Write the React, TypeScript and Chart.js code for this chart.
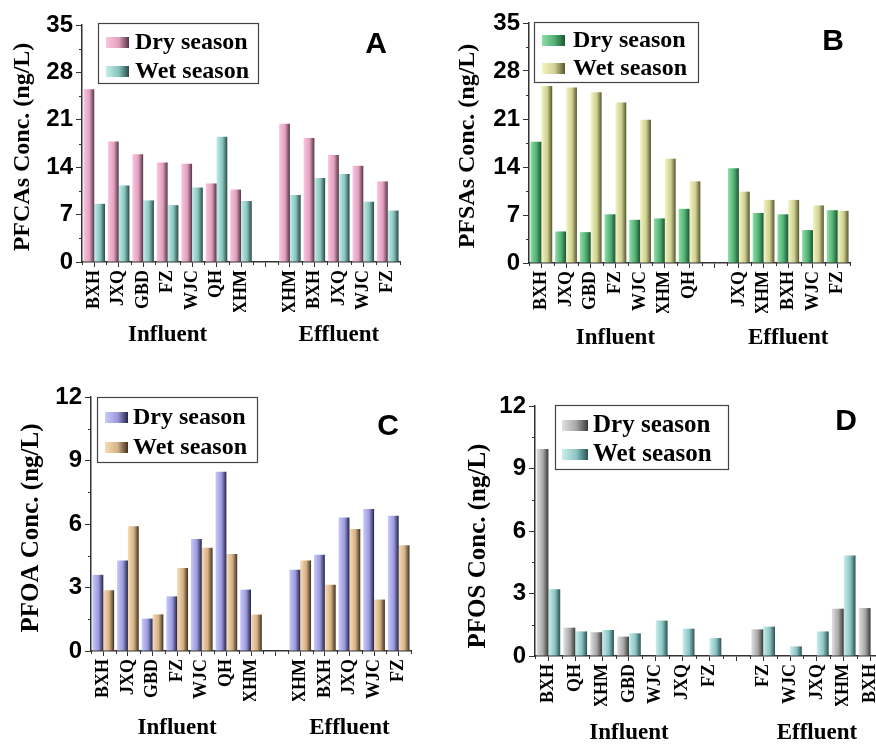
import React, { useEffect, useRef } from 'react';
import { Chart, registerables } from 'chart.js';

Chart.register(...registerables);

// ---------------- DATA ----------------
const seriesNames = ['Dry season', 'Wet season'];
const groupLabels = ['Influent', 'Effluent'];

const labelsA = ['BXH', 'JXQ', 'GBD', 'FZ', 'WJC', 'QH', 'XHM', '', 'XHM', 'BXH', 'JXQ', 'WJC', 'FZ'];
const dryA = [25.5, 17.8, 15.9, 14.7, 14.5, 11.6, 10.7, null, 20.4, 18.3, 15.8, 14.2, 11.9];
const wetA = [8.6, 11.3, 9.1, 8.4, 11.0, 18.5, 9.0, null, 9.9, 12.4, 13.0, 8.9, 7.6];

const labelsB = ['BXH', 'JXQ', 'GBD', 'FZ', 'WJC', 'XHM', 'QH', '', 'JXQ', 'XHM', 'BXH', 'WJC', 'FZ'];
const dryB = [17.7, 4.6, 4.5, 7.1, 6.3, 6.5, 7.9, null, 13.8, 7.3, 7.1, 4.8, 7.7];
const wetB = [25.8, 25.6, 24.9, 23.4, 20.9, 15.2, 11.9, null, 10.4, 9.2, 9.2, 8.4, 7.6];

const labelsC = ['BXH', 'JXQ', 'GBD', 'FZ', 'WJC', 'QH', 'XHM', '', 'XHM', 'BXH', 'JXQ', 'WJC', 'FZ'];
const dryC = [3.6, 4.28, 1.53, 2.58, 5.29, 8.47, 2.9, null, 3.84, 4.55, 6.31, 6.71, 6.39];
const wetC = [2.87, 5.89, 1.73, 3.92, 4.88, 4.58, 1.72, null, 4.28, 3.13, 5.76, 2.43, 5.0];

const labelsD = ['BXH', 'QH', 'XHM', 'GBD', 'WJC', 'JXQ', 'FZ', '', 'FZ', 'WJC', 'JXQ', 'XHM', 'BXH'];
const dryD = [9.94, 1.36, 1.14, 0.93, null, null, null, null, 1.28, null, null, 2.27, 2.3];
const wetD = [3.2, 1.18, 1.25, 1.09, 1.7, 1.31, 0.86, null, 1.41, 0.46, 1.18, 4.82, null];

const yMaxAB = 35;
const yStepAB = 7;
const yMaxCD = 12;
const yStepCD = 3;

// ---------------- STYLE / LAYOUT ----------------
type Stops = string[];
const XH = 50;

const panels = [
  {
    letter: 'A', left: 0, top: 0, w: 436, h: 360,
    area: { l: 82, t: 25, r: 400, b: 262 },
    labels: labelsA, dry: dryA, wet: wetA, yMax: yMaxAB, yStep: yStepAB,
    title: 'PFCAs Conc. (ng/L)', titleX: 23, titleY: 147, titleSize: 24,
    legend: { x: 98, y: 23, w: 160, h: 60, sx: 106, sw: 23, tx: 135, r1: 42, r2: 71, font: 24 },
    letterPos: { x: 376, y: 45 }, groupDy: 73,
    grad: [['#fac6de', '#e2a0c0', '#553444'], ['#c2eee9', '#88c4be', '#2b4a47']] as Stops[],
  },
  {
    letter: 'B', left: 436, top: 0, w: 440, h: 360,
    area: { l: 93, t: 23, r: 414, b: 263 },
    labels: labelsB, dry: dryB, wet: wetB, yMax: yMaxAB, yStep: yStepAB,
    title: 'PFSAs Conc. (ng/L)', titleX: 32, titleY: 146, titleSize: 24,
    legend: { x: 98, y: 22, w: 164, h: 60, sx: 106, sw: 23, tx: 137, r1: 40, r2: 68, font: 24 },
    letterPos: { x: 397, y: 42 }, groupDy: 75,
    grad: [['#8edfa6', '#52b074', '#1c5532'], ['#f4f5c2', '#cfd092', '#56562e']] as Stops[],
  },
  {
    letter: 'C', left: 0, top: 360, w: 436, h: 384,
    area: { l: 91, t: 37, r: 411, b: 291 },
    labels: labelsC, dry: dryC, wet: wetC, yMax: yMaxCD, yStep: yStepCD,
    title: 'PFOA Conc. (ng/L)', titleX: 32, titleY: 168, titleSize: 25,
    legend: { x: 97, y: 37, w: 160, h: 65, sx: 105, sw: 23, tx: 133, r1: 57, r2: 87, font: 24 },
    letterPos: { x: 388, y: 67 }, groupDy: 77,
    grad: [['#cacafb', '#9a9add', '#242447'], ['#f8dcb6', '#d5b287', '#42301d']] as Stops[],
  },
  {
    letter: 'D', left: 436, top: 360, w: 460, h: 384,
    area: { l: 99, t: 46, r: 448, b: 296 },
    labels: labelsD, dry: dryD, wet: wetD, yMax: yMaxCD, yStep: yStepCD,
    title: 'PFOS Conc. (ng/L)', titleX: 43, titleY: 186, titleSize: 25,
    legend: { x: 119, y: 45, w: 173, h: 64, sx: 126, sw: 26, tx: 157, r1: 65, r2: 94, font: 25 },
    letterPos: { x: 410, y: 62 }, groupDy: 77,
    grad: [['#e0e0e0', '#a6a6a6', '#3a3a3a'], ['#c8eeec', '#8cc4c4', '#2a5252']] as Stops[],
  },
];

type Panel = typeof panels[number];

function makeGrad(ctx: CanvasRenderingContext2D, x0: number, x1: number, stops: Stops) {
  const g = ctx.createLinearGradient(x0, 0, x1, 0);
  g.addColorStop(0, stops[0]);
  g.addColorStop(0.55, stops[1]);
  g.addColorStop(1, stops[2]);
  return g;
}

function makePlugin(p: Panel) {
  return {
    id: 'panelDecor' + p.letter,
    beforeDatasetsDraw(chart: any) {
      const ctx = chart.ctx;
      chart.data.datasets.forEach((_ds: any, i: number) => {
        const meta = chart.getDatasetMeta(i);
        meta.data.forEach((el: any) => {
          const { x, width } = el.getProps(['x', 'width'], true);
          if (!isFinite(x) || !isFinite(width)) return;
          const g = makeGrad(ctx, x - width / 2, x + width / 2, p.grad[i]);
          el.options = Object.assign({}, el.options, { backgroundColor: g });
        });
      });
    },
    afterDraw(chart: any) {
      const ctx: CanvasRenderingContext2D = chart.ctx;
      const { left, bottom } = chart.chartArea;
      const ys = chart.scales.y;
      const xs = chart.scales.x;
      ctx.save();
      ctx.strokeStyle = '#333';
      ctx.lineWidth = 1;
      // minor y ticks
      for (let v = p.yStep / 2; v < p.yMax; v += p.yStep) {
        const py = Math.round(ys.getPixelForValue(v)) + 0.5;
        ctx.beginPath();
        ctx.moveTo(left, py);
        ctx.lineTo(left - 3, py);
        ctx.stroke();
      }
      // minor x ticks at category boundaries
      for (let i = 0; i <= p.labels.length; i++) {
        const px = Math.round(xs.getPixelForValue(i - 0.5)) + 0.5;
        ctx.beginPath();
        ctx.moveTo(px, bottom);
        ctx.lineTo(px, bottom + 3);
        ctx.stroke();
      }
      // group labels
      ctx.fillStyle = '#000';
      ctx.font = 'bold 23px "Liberation Serif"';
      ctx.textAlign = 'center';
      ctx.textBaseline = 'middle';
      ctx.fillText(groupLabels[0], xs.getPixelForValue(3), bottom + p.groupDy);
      ctx.fillText(groupLabels[1], xs.getPixelForValue(10), bottom + p.groupDy);
      // y title
      ctx.save();
      ctx.translate(p.titleX, p.titleY);
      ctx.rotate(-Math.PI / 2);
      ctx.font = `bold ${p.titleSize}px "Liberation Serif"`;
      ctx.fillText(p.title, 0, 0);
      ctx.restore();
      // legend
      const L = p.legend;
      ctx.fillStyle = '#fff';
      ctx.fillRect(L.x, L.y, L.w, L.h);
      ctx.strokeStyle = '#444';
      ctx.lineWidth = 1.2;
      ctx.strokeRect(L.x + 0.5, L.y + 0.5, L.w, L.h);
      [L.r1, L.r2].forEach((ry, i) => {
        ctx.fillStyle = makeGrad(ctx, L.sx, L.sx + L.sw, p.grad[i]);
        ctx.fillRect(L.sx, ry - 5, L.sw, 11);
        ctx.fillStyle = '#000';
        ctx.font = `bold ${L.font}px "Liberation Serif"`;
        ctx.textAlign = 'left';
        ctx.textBaseline = 'middle';
        ctx.fillText(seriesNames[i], L.tx, ry + 1);
      });
      // panel letter
      ctx.font = 'bold 30px "Liberation Sans"';
      ctx.fillStyle = '#000';
      ctx.textAlign = 'center';
      ctx.textBaseline = 'middle';
      ctx.fillText(p.letter, p.letterPos.x, p.letterPos.y);
      ctx.restore();
    },
  };
}

function PanelChart({ p }: { p: Panel }) {
  const ref = useRef<HTMLCanvasElement>(null);
  useEffect(() => {
    if (!ref.current) return;
    const chart = new Chart(ref.current, {
      type: 'bar',
      data: {
        labels: p.labels,
        datasets: [
          { label: seriesNames[0], data: p.dry, backgroundColor: p.grad[0][1], borderWidth: 0, categoryPercentage: 0.88, barPercentage: 1 },
          { label: seriesNames[1], data: p.wet, backgroundColor: p.grad[1][1], borderWidth: 0, categoryPercentage: 0.88, barPercentage: 1 },
        ],
      },
      options: {
        responsive: false,
        animation: false,
        devicePixelRatio: 1,
        layout: {
          padding: { left: 0, top: p.area.t, right: p.w - p.area.r, bottom: p.h - p.area.b - XH },
        },
        plugins: { legend: { display: false }, tooltip: { enabled: false } },
        scales: {
          x: {
            grid: { display: true, drawOnChartArea: false, drawTicks: true, tickLength: 5, offset: false, color: '#333', lineWidth: 1 },
            border: { display: true, color: '#333', width: 1.5 },
            ticks: {
              autoSkip: false, minRotation: 90, maxRotation: 90, padding: 3, color: '#000',
              font: { family: 'Liberation Serif', weight: 'bold', size: 18 },
            },
            afterFit: (s: any) => { s.height = XH; },
          },
          y: {
            min: 0, max: p.yMax,
            grid: { display: true, drawOnChartArea: false, drawTicks: true, tickLength: 6, color: '#333', lineWidth: 1 },
            border: { display: true, color: '#333', width: 1.5 },
            ticks: {
              stepSize: p.yStep, padding: 3, color: '#000',
              font: { family: 'Liberation Sans', weight: 'bold', size: 24 },
            },
            afterFit: (s: any) => { s.width = p.area.l; },
          },
        },
      } as any,
      plugins: [makePlugin(p)],
    });
    return () => chart.destroy();
  }, [p]);
  return (
    <canvas
      ref={ref}
      width={p.w}
      height={p.h}
      style={{ position: 'absolute', left: p.left, top: p.top, width: p.w, height: p.h }}
    />
  );
}

export default function App() {
  return (
    <div style={{ position: 'fixed', left: 0, top: 0, width: 876, height: 744, overflow: 'hidden', background: '#fff' }}>
      {panels.map((p) => (
        <PanelChart key={p.letter} p={p} />
      ))}
    </div>
  );
}
